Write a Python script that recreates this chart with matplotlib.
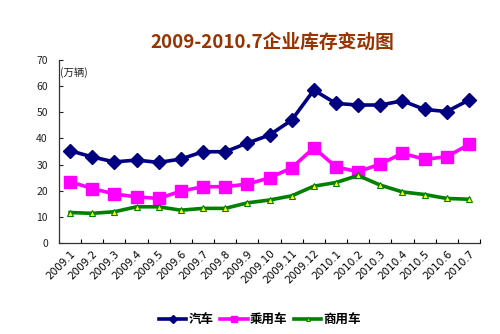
import matplotlib
matplotlib.use("Agg")
import matplotlib.pyplot as plt

plt.rcParams['font.family'] = ['Noto Sans CJK SC', 'DejaVu Sans']

months = ["2009.1", "2009.2", "2009.3", "2009.4", "2009.5", "2009.6", "2009.7",
          "2009.8", "2009.9", "2009.10", "2009.11", "2009.12", "2010.1", "2010.2",
          "2010.3", "2010.4", "2010.5", "2010.6", "2010.7"]
autos = [35.3, 32.9, 31.0, 31.7, 30.8, 32.1, 34.9, 34.9, 38.2, 41.3, 47.0, 58.5,
         53.4, 52.8, 52.8, 54.4, 51.1, 50.3, 54.7]
passenger = [23.4, 20.8, 18.7, 17.6, 17.0, 19.8, 21.5, 21.5, 22.5, 24.9, 28.7, 36.4,
             29.1, 27.2, 30.2, 34.3, 32.0, 33.0, 37.7]
commercial = [11.6, 11.3, 11.9, 13.8, 13.8, 12.5, 13.2, 13.2, 15.3, 16.4, 18.0, 21.7,
              23.1, 25.8, 22.1, 19.5, 18.5, 17.0, 16.7]

fig = plt.figure(figsize=(5.0, 3.34), dpi=100)
ax = fig.add_axes([0.118, 0.273, 0.842, 0.547])

x = list(range(len(months)))
ax.plot(x, autos, color="#000080", lw=2.6, marker="D", ms=7,
        mfc="#000080", mec="#000080", label="汽车", zorder=3)
ax.plot(x, passenger, color="#FF00FF", lw=2.6, marker="s", ms=9,
        mfc="#FF00FF", mec="#FF00FF", label="乘用车", zorder=3)
ax.plot(x, commercial, color="#008000", lw=2.6, marker="^", ms=5,
        mfc="#FFFF00", mec="#008000", mew=0.8, label="商用车", zorder=4)

ax.set_xlim(-0.5, len(months) - 0.5)
ax.set_ylim(0, 70)
ax.set_yticks(range(0, 71, 10))
ax.tick_params(axis="y", labelsize=7.5, length=3, direction="in", colors="#222222", pad=8)

# category boundary ticks on the x axis, labels at category centres
ax.set_xticks([i - 0.5 for i in range(len(months) + 1)])
ax.set_xticklabels([])
ax.tick_params(axis="x", which="major", length=3, direction="in")
ax.set_xticks(x, minor=True)
ax.set_xticklabels(months, minor=True, rotation=45, ha="right",
                   rotation_mode="anchor", fontsize=7.5, family=["DejaVu Sans"])
ax.tick_params(axis="x", which="minor", length=0, pad=4)

for s in ["top", "right"]:
    ax.spines[s].set_visible(False)
for s in ["left", "bottom"]:
    ax.spines[s].set_color("#333333")
    ax.spines[s].set_linewidth(0.9)

ax.text(0.003, 0.93, "(万辆)", transform=ax.transAxes, fontsize=7.5,
        ha="left", va="center", color="#222222")

fig.text(0.545, 0.872, "2009-2010.7企业库存变动图", ha="center", va="center",
         fontsize=13.5, fontweight="bold", color="#993300")

fig.legend(loc="center", bbox_to_anchor=(0.52, 0.042), ncol=3, frameon=False,
           handlelength=2.2, handletextpad=0.2, columnspacing=0.5, markerscale=0.55,
           prop={"weight": "bold", "size": 9})

fig.savefig("out.png", dpi=100, facecolor="white")
